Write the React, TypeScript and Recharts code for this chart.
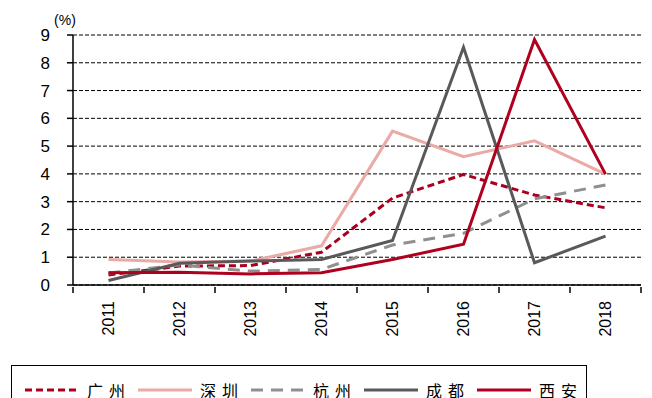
import React from 'react';
import {
  LineChart,
  Line,
  XAxis,
  YAxis,
  CartesianGrid
} from 'recharts';

const years = ['2011', '2012', '2013', '2014', '2015', '2016', '2017', '2018'];
const guangzhou = [0.36, 0.68, 0.7, 1.18, 3.13, 3.98, 3.24, 2.78];
const shenzhen = [0.92, 0.83, 0.86, 1.41, 5.54, 4.62, 5.19, 3.99];
const hangzhou = [0.43, 0.72, 0.5, 0.56, 1.44, 1.86, 3.1, 3.6];
const chengdu = [0.16, 0.78, 0.86, 0.92, 1.6, 8.56, 0.8, 1.76];
const xian = [0.44, 0.46, 0.4, 0.44, 0.92, 1.47, 8.84, 3.99];
const yTicks = [0, 1, 2, 3, 4, 5, 6, 7, 8, 9];

const series = [
  { key: 'gz', name: '广州', color: '#a8001e', dash: '7 4' },
  { key: 'sz', name: '深圳', color: '#eaaaa6', dash: '' },
  { key: 'hz', name: '杭州', color: '#8f8f8f', dash: '12 8' },
  { key: 'cd', name: '成都', color: '#595959', dash: '' },
  { key: 'xa', name: '西安', color: '#b0001f', dash: '' }
];

const data = years.map((year, i) => ({
  year,
  gz: guangzhou[i],
  sz: shenzhen[i],
  hz: hangzhou[i],
  cd: chengdu[i],
  xa: xian[i]
}));

const FONT = '"Liberation Sans", Arial, sans-serif';
const CJK = '"Noto Sans CJK SC", sans-serif';
const WIDTH = 652;
const HEIGHT = 398;
const MARGIN = { top: 35, right: 11, left: 0, bottom: 53 };
const Y_AXIS_W = 73;
const BAND = (WIDTH - MARGIN.left - MARGIN.right - Y_AXIS_W) / years.length;

// year label rotated upward, plus a tick mark on each band boundary
const YearTick = ({ x, y, payload, index }: any) => {
  const left = x - BAND / 2;
  const top = y - 6;
  return (
    <g>
      <line x1={left} y1={top} x2={left} y2={top + 6} stroke="#000" strokeWidth={1.5} />
      {index === years.length - 1 && (
        <line x1={left + BAND} y1={top} x2={left + BAND} y2={top + 6} stroke="#000" strokeWidth={1.5} />
      )}
      <text
        transform={`translate(${x},${y + 8}) rotate(-90)`}
        textAnchor="end"
        dy="0.36em"
        fontSize={16}
        fontFamily={FONT}
        fill="#000"
      >
        {payload.value}
      </text>
    </g>
  );
};

const UnitLabel = ({ viewBox }: any) => (
  <text
    x={viewBox.x + viewBox.width - 8}
    y={viewBox.y - 10}
    textAnchor="middle"
    fontSize={14}
    fontFamily={FONT}
    fill="#000"
  >
    (%)
  </text>
);

const LegendBox = () => (
  <div
    style={{
      position: 'absolute',
      left: 11,
      top: 365,
      width: 576,
      height: 40,
      border: '1px solid #000',
      boxSizing: 'border-box',
      paddingLeft: 13,
      paddingTop: 14,
      whiteSpace: 'nowrap'
    }}
  >
    {series.map((s) => (
      <div
        key={s.key}
        style={{ display: 'inline-flex', alignItems: 'center', width: 113, flexShrink: 0, verticalAlign: 'top' }}
      >
        <svg width={54} height={20} style={{ display: 'block', flexShrink: 0 }}>
          <line x1={0} y1={10} x2={54} y2={10} stroke={s.color} strokeWidth={3} strokeDasharray={s.dash} />
        </svg>
        <span
          style={{
            marginLeft: 8,
            fontFamily: CJK,
            fontSize: 16,
            letterSpacing: 6,
            lineHeight: '20px',
            color: '#000',
            whiteSpace: 'nowrap'
          }}
        >
          {s.name}
        </span>
      </div>
    ))}
  </div>
);

export default function App() {
  return (
    <div style={{ position: 'absolute', left: 0, top: 0, width: WIDTH, height: HEIGHT, background: '#fff', overflow: 'hidden' }}>
      <LineChart width={WIDTH} height={HEIGHT} data={data} margin={MARGIN}>
        <CartesianGrid vertical={false} stroke="#000" strokeDasharray="4 2" />
        <XAxis
          dataKey="year"
          height={60}
          padding={{ left: BAND / 2, right: BAND / 2 }}
          axisLine={{ stroke: '#000', strokeWidth: 1.5 }}
          tickLine={false}
          tick={<YearTick />}
          interval={0}
        />
        <YAxis
          width={Y_AXIS_W}
          domain={[0, 9]}
          ticks={yTicks}
          interval={0}
          axisLine={{ stroke: '#000', strokeWidth: 1.5 }}
          tickLine={{ stroke: '#000', strokeWidth: 1.5 }}
          tickSize={6}
          tickMargin={17}
          tick={{ fill: '#000', fontSize: 17, fontFamily: FONT }}
          label={<UnitLabel />}
        />
        {series.map((s) => (
          <Line
            key={s.key}
            dataKey={s.key}
            name={s.name}
            type="linear"
            stroke={s.color}
            strokeWidth={3}
            strokeDasharray={s.dash}
            dot={false}
            activeDot={false}
            isAnimationActive={false}
          />
        ))}
      </LineChart>
      <LegendBox />
    </div>
  );
}
